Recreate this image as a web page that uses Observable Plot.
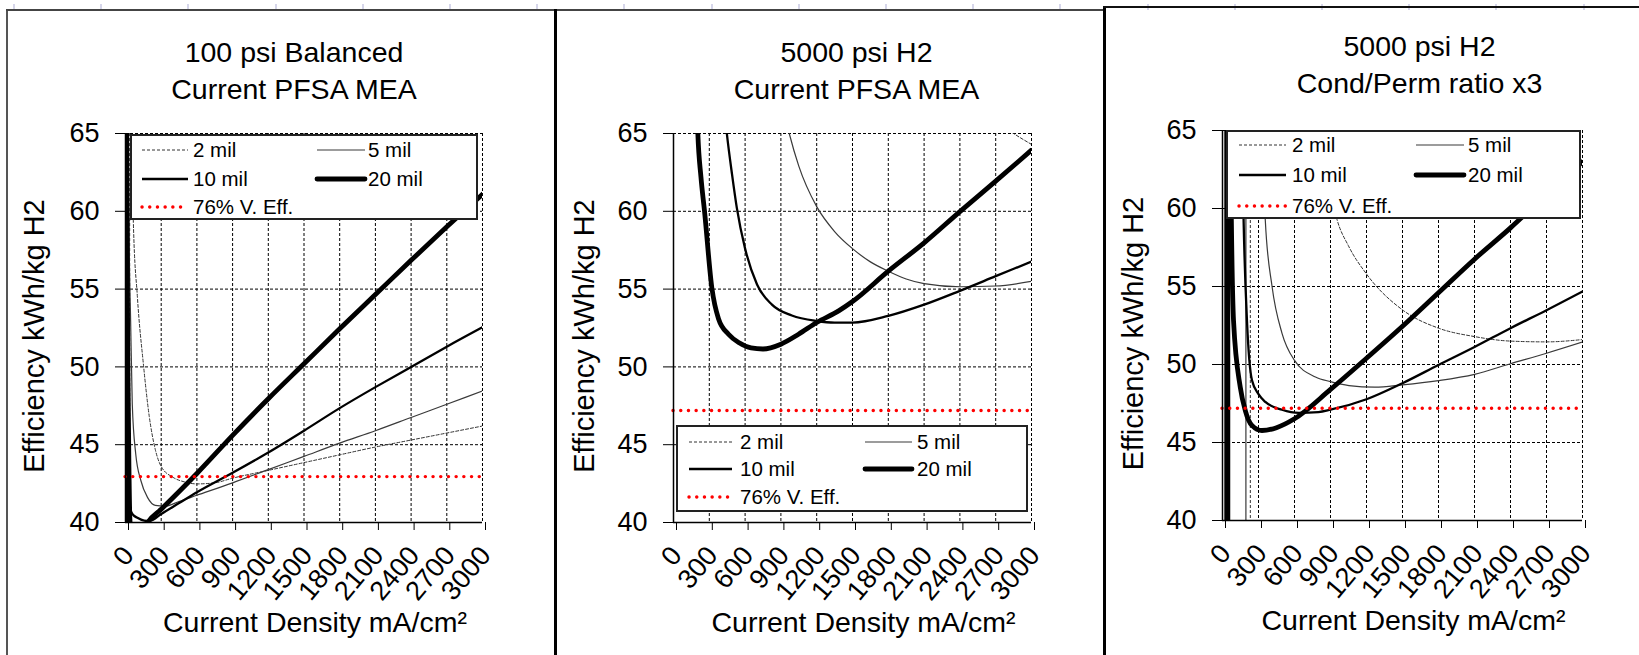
<!DOCTYPE html>
<html><head><meta charset="utf-8">
<script src="https://cdn.jsdelivr.net/npm/d3@7"></script>
<script src="https://cdn.jsdelivr.net/npm/@observablehq/plot@0.6"></script>
<style>
html,body{margin:0;padding:0;background:#fff;}
#root{position:relative;width:1639px;height:655px;overflow:hidden;background:#fff;font-family:"Liberation Sans",Arial,sans-serif;}
.abs{position:absolute;}
</style></head><body><div id="root"></div>
<script>
// ---------- data ----------
const xTicks = [0,300,600,900,1200,1500,1800,2100,2400,2700,3000];
const xTickLabels = ["0","300","600","900","1200","1500","1800","2100","2400","2700","3000"];
const yTicks = [40,45,50,55,60,65];
const yTickLabels = ["40","45","50","55","60","65"];
const seriesNames = ["2 mil","5 mil","10 mil","20 mil"];
const effName = "76% V. Eff.";
const titles = [["100 psi Balanced","Current PFSA MEA"],["5000 psi H2","Current PFSA MEA"],["5000 psi H2","Cond/Perm ratio x3"]];
const xLabel = "Current Density mA/cm\u00B2";
const yLabel = "Efficiency kWh/kg H2";
const effLevel = [42.95, 47.2, 47.2];

// Panel 1: 100 psi Balanced, Current PFSA MEA  [mA/cm2, kWh/kg]
const p1_2mil = [[40,90],[55,68],[66,59.3],[100,54.5],[150,50.2],[200,46.8],[250,44.7],[300,43.6],[400,42.9],[500,42.6],[600,42.48],[750,42.55],[900,42.85],[1200,43.35],[1500,43.85],[1800,44.35],[2100,44.85],[2400,45.3],[2700,45.75],[3000,46.2]];
const p1_5mil = [[17,90],[22,68],[29,59.3],[43,53],[57,47.6],[86,44.4],[129,42.7],[186,41.6],[250,41.1],[330,41.05],[450,41.35],[600,41.75],[900,42.55],[1200,43.4],[1500,44.25],[1800,45.1],[2100,45.9],[2400,46.75],[2700,47.6],[3000,48.45]];
const p1_10mil = [[11,90],[15,66],[20,52],[29,41.2],[57,40.55],[100,40.3],[157,40.12],[200,40.1],[300,40.55],[450,41.25],[600,41.95],[900,43.2],[1200,44.5],[1500,45.9],[1800,47.35],[2100,48.7],[2400,50.0],[2700,51.3],[3000,52.55]];
const p1_20mil = [[6,85],[12,62],[20,50],[30,43],[37,40.2],[50,39.3],[100,38.9],[150,39.5],[186,40.0],[300,40.85],[600,43.15],[900,45.6],[1200,47.95],[1500,50.2],[1800,52.45],[2100,54.65],[2400,56.85],[2700,59.0],[3000,61.1]];
const p1_jumps = [35,15,9,4];

// Panel 2: 5000 psi H2, Current PFSA MEA
const p2_2mil = [[2600,66.4],[2850,65.0],[3000,64.3]];
const p2_5mil = [[900,67.3],[970,65],[1050,62.9],[1200,60.3],[1350,58.7],[1500,57.6],[1650,56.75],[1800,56.15],[1950,55.65],[2100,55.35],[2400,55.15],[2700,55.2],[3000,55.5]];
const p2_10mil = [[420,67],[447,65],[490,62.4],[531,60.2],[600,57.6],[700,55.3],[825,54.0],[992,53.3],[1200,52.95],[1350,52.85],[1500,52.85],[1800,53.28],[2100,54.0],[2400,54.89],[2700,55.83],[3000,56.77]];
const p2_20mil = [[185,70],[204,65],[230,62.2],[260,60],[321,55.1],[377,53.1],[461,52.1],[550,51.55],[650,51.22],[750,51.15],[900,51.46],[1048,52.1],[1200,52.85],[1384,53.6],[1500,54.2],[1800,56.15],[2100,57.97],[2400,59.98],[2700,61.94],[3000,63.93]];
const p2_jumps = [null,null,null,null];

// Panel 3: 5000 psi H2, Cond/Perm ratio x3
const p3_2mil = [[850,63.2],[954,59.3],[1050,57.6],[1200,55.8],[1500,53.5],[1800,52.33],[2100,51.79],[2400,51.5],[2700,51.45],[3000,51.6]];
const p3_5mil = [[300,72],[357,59.2],[413,55.0],[496,52.0],[600,50.26],[775,49.2],[900,48.9],[1054,48.65],[1270,48.55],[1500,48.7],[1800,48.97],[2100,49.37],[2400,50.05],[2700,50.72],[3000,51.44]];
const p3_10mil = [[150,72],[176,59.2],[204,52.8],[245,49.0],[300,48.1],[357,47.6],[496,47.1],[636,46.9],[800,46.95],[900,47.1],[1200,47.77],[1500,48.8],[1800,49.97],[2100,51.12],[2400,52.33],[2700,53.48],[3000,54.68]];
const p3_20mil = [[55,75],[74,59.2],[92,52.8],[148,48.55],[190,47.05],[245,46.1],[329,45.77],[450,45.95],[600,46.52],[900,48.4],[1200,50.4],[1500,52.45],[1800,54.6],[2100,56.75],[2400,58.76],[2700,60.9],[3000,63.0]];
const p3_jumps = [232,195,55,35];

// ---------- styles ----------
const FONT = '"Liberation Sans", Arial, Helvetica, sans-serif';
const seriesStyle = [
  {stroke:"#333", strokeWidth:1, strokeDasharray:"3,2"},
  {stroke:"#3a3a3a", strokeWidth:1.2},
  {stroke:"#000", strokeWidth:2.3},
  {stroke:"#000", strokeWidth:4.8}
];
const redStyle = {stroke:"#ff0000", strokeWidth:3.4, strokeDasharray:"0.1,7.6", strokeLinecap:"round"};
const gridStyle = {stroke:"#000", strokeWidth:1, strokeDasharray:"3,2"};

const H = 655;
const root = document.getElementById("root");

const panels = [
  {svgLeft:0, svgWidth:555, plot:{l:125,r:482,t:133,b:522}, series:[p1_2mil,p1_5mil,p1_10mil,p1_20mil], jumps:p1_jumps, eff:effLevel[0], title:titles[0],
   tdx:-10, tdy:-65, xdx:11, xdy:100, ydx:-91, ydy:8,
   legend:{x:130,y:134,w:348,h:86, rows:[16,45,73], c1:[12,58,63], c2:[187,235,238]}},
  {svgLeft:555, svgWidth:550, plot:{l:673,r:1031,t:133,b:522}, series:[p2_2mil,p2_5mil,p2_10mil,p2_20mil], jumps:p2_jumps, eff:effLevel[1], title:titles[1],
   tdx:4, tdy:-65, xdx:11, xdy:100, ydx:-89, ydy:8,
   legend:{x:676,y:425,w:352,h:87, rows:[17,44,72], c1:[13,56,64], c2:[189,236,241]}},
  {svgLeft:1105, svgWidth:534, plot:{l:1222,r:1582,t:130,b:520}, series:[p3_2mil,p3_5mil,p3_10mil,p3_20mil], jumps:p3_jumps, eff:effLevel[2], title:titles[2],
   tdx:17, tdy:-68, xdx:11, xdy:100, ydx:-89, ydy:8,
   legend:{x:1226,y:130,w:355,h:89, rows:[15,45,76], c1:[13,60,66], c2:[190,238,242]}}
];

function buildPanel(p) {
  const marks = [
    Plot.ruleX(xTicks, gridStyle),
    Plot.ruleY(yTicks, gridStyle)
  ];
  p.series.forEach((s, i) => {
    marks.push(Plot.line(s, {x: d => d[0], y: d => d[1], curve: "monotone-x", clip: true, ...seriesStyle[i]}));
    if (p.jumps[i] != null) marks.push(Plot.ruleX([p.jumps[i]], {clip: true, ...seriesStyle[i]}));
  });
  marks.push(Plot.ruleY([p.eff], redStyle));
  marks.push(Plot.ruleX([0], {stroke:"#000", strokeWidth:1.5}));
  marks.push(Plot.ruleY([40], {stroke:"#000", strokeWidth:1.5}));
  marks.push(Plot.axisX(xTicks, {tickSize:8, tickPadding:20, tickRotate:-50, textAnchor:"end", lineAnchor:"middle", fontSize:27, dx:3, label:null, tickFormat: d => xTickLabels[xTicks.indexOf(d)]}));
  marks.push(Plot.axisY(yTicks, {tickSize:10, tickPadding:16, fontSize:27, label:null, tickFormat: d => yTickLabels[yTicks.indexOf(d)]}));
  marks.push(Plot.text([p.title.join("\n")], {text: d => d, frameAnchor:"top", textAnchor:"middle", lineAnchor:"middle", lineHeight:1.29, dx:p.tdx, dy:p.tdy, fontSize:28.5, fill:"#000"}));
  marks.push(Plot.text([xLabel], {text: d => d, frameAnchor:"bottom", textAnchor:"middle", lineAnchor:"middle", dx:p.xdx, dy:p.xdy, fontSize:28.5, fill:"#000"}));
  marks.push(Plot.text([yLabel], {text: d => d, frameAnchor:"left", textAnchor:"middle", lineAnchor:"middle", rotate:-90, dx:p.ydx, dy:p.ydy, fontSize:29, fill:"#000"}));

  const svg = Plot.plot({
    width: p.svgWidth, height: H,
    marginLeft: p.plot.l - p.svgLeft,
    marginRight: p.svgLeft + p.svgWidth - p.plot.r,
    marginTop: p.plot.t,
    marginBottom: H - p.plot.b,
    x: {domain:[0,3000]},
    y: {domain:[40,65]},
    style: {background:"transparent", maxWidth:"none", overflow:"visible", fontFamily: FONT, color:"#000"},
    marks
  });
  const wrap = document.createElement("div");
  wrap.className = "abs";
  wrap.style.left = p.svgLeft + "px";
  wrap.style.top = "0px";
  wrap.appendChild(svg);
  root.appendChild(wrap);

  // legend
  const L = p.legend;
  const lg = d3.create("svg").attr("width", L.w).attr("height", L.h)
    .style("position","absolute").style("left", L.x+"px").style("top", L.y+"px").style("font-family", FONT);
  lg.append("rect").attr("x",1).attr("y",1).attr("width",L.w-2).attr("height",L.h-2)
    .attr("fill","#fff").attr("stroke","#222").attr("stroke-width",2);
  const entries = [
    {name: seriesNames[0], st: seriesStyle[0], col: L.c1, row: L.rows[0]},
    {name: seriesNames[1], st: seriesStyle[1], col: L.c2, row: L.rows[0]},
    {name: seriesNames[2], st: seriesStyle[2], col: L.c1, row: L.rows[1]},
    {name: seriesNames[3], st: seriesStyle[3], col: L.c2, row: L.rows[1]},
    {name: effName, st: redStyle, col: L.c1, row: L.rows[2]}
  ];
  entries.forEach(e => {
    const ln = lg.append("line").attr("x1", e.col[0]).attr("x2", e.col[1]).attr("y1", e.row).attr("y2", e.row)
      .attr("stroke", e.st.stroke).attr("stroke-width", e.st.strokeWidth);
    if (e.st.strokeDasharray) ln.attr("stroke-dasharray", e.st.strokeDasharray);
    if (e.st.strokeLinecap) ln.attr("stroke-linecap", e.st.strokeLinecap);
    if (e.st === seriesStyle[3]) ln.attr("stroke-linecap", "round");
    lg.append("text").attr("x", e.col[2]).attr("y", e.row).attr("dy","0.36em")
      .attr("font-size", 20.5).attr("fill","#000").text(e.name);
  });
  root.appendChild(lg.node());
}

panels.forEach(buildPanel);

// faint column markers at the very top
const colMarks = document.createElement("div");
colMarks.className = "abs";
Object.assign(colMarks.style, {left:"13px", top:"4px", width:"1626px", height:"6px",
  background:"repeating-linear-gradient(to right, #d6d6ea 0px, #d6d6ea 2px, transparent 2px, transparent 87.2px)"});
root.appendChild(colMarks);

// panel frames
function box(styles) { const d = document.createElement("div"); d.className = "abs"; Object.assign(d.style, styles); root.appendChild(d); }
box({left:"6px", top:"9px", width:"2px", height:"700px", background:"#555"});
box({left:"6px", top:"9px", width:"1098px", height:"2px", background:"#444"});
box({left:"554px", top:"9px", width:"3px", height:"700px", background:"#000"});
box({left:"1103px", top:"6px", width:"3px", height:"700px", background:"#000"});
box({left:"1103px", top:"6px", width:"540px", height:"2px", background:"#111"});
</script></body></html>
